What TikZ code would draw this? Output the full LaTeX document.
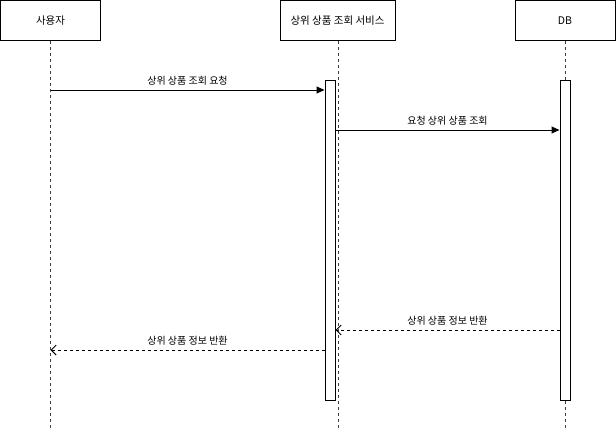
\documentclass[tikz,border=0pt]{standalone}
\usepackage{fontspec}
\setmainfont{Noto Sans CJK KR}
\usetikzlibrary{arrows.meta}
\begin{document}
\begin{tikzpicture}[x=1pt,y=-1pt,
  lbox/.style={draw=black,line width=1pt,fill=white,minimum width=100pt,minimum height=40pt,inner sep=0pt,font=\fontsize{10.5}{12}\selectfont},
  sbox/.style={lbox,minimum width=115pt},
  life/.style={draw=black!75,line width=1pt,dash pattern=on 3pt off 3pt},
  act/.style={draw=black,line width=1pt,fill=white,minimum width=10pt,minimum height=320pt,inner sep=0pt},
  msg/.style={draw=black,line width=1pt,-{Triangle[length=8pt,width=7pt]}},
  ret/.style={draw=black,line width=1pt,dash pattern=on 3pt off 3pt,-{Straight Barb[length=5pt,width=10pt]}},
  lbl/.style={font=\fontsize{10}{11}\selectfont,inner sep=0pt}]
\useasboundingbox (0,0) rectangle (616,431);
% headers
\node[lbox] (user) at (50.5,20.5) {사용자};
\node[sbox] (svc) at (337.5,20.5) {상위 상품 조회 서비스};
\node[lbox] (db) at (565,20.5) {DB};
% lifeline ends
\coordinate (userend) at (50.5,428);
\coordinate (svcend) at (338,428);
\coordinate (dbend) at (565,428);
\draw[life] (user.south) -- (userend);
\draw[life] (svc.south -| svcend) -- (svcend);
\draw[life] (db.south) -- (dbend);
% activations
\node[act] (svcact) at (330,240) {};
\node[act] (dbact) at (565,240) {};
% messages
\coordinate (m1) at (50.5,90);
\coordinate (m2) at (335,130);
\coordinate (r1) at (560,330);
\coordinate (r2) at (325,350);
\draw[msg] (m1) -- (svcact.west |- m1) node[lbl,midway,above=4pt] {상위 상품 조회 요청};
\draw[msg] (svcact.east |- m2) -- (dbact.west |- m2) node[lbl,midway,above=4pt] {요청 상위 상품 조회};
\draw[ret] (dbact.west |- r1) -- (svcact.east |- r1) node[lbl,midway,above=4pt] {상위 상품 정보 반환};
\draw[ret] (svcact.west |- r2) -- (userend |- r2) node[lbl,midway,above=4pt] {상위 상품 정보 반환};
\end{tikzpicture}
\end{document}
